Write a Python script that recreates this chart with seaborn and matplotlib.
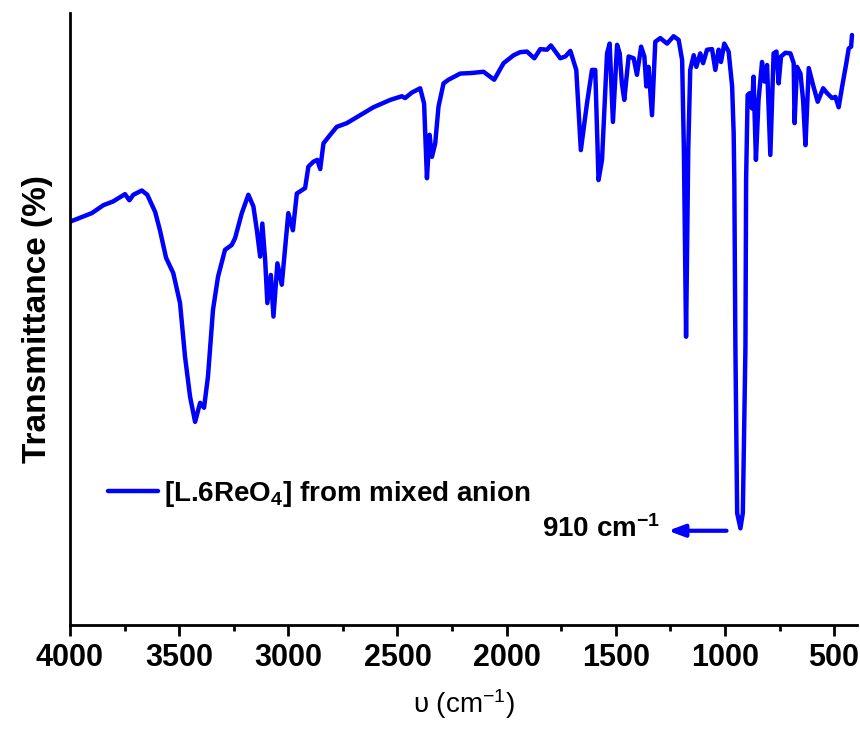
import numpy as np
import pandas as pd
import matplotlib
matplotlib.use("Agg")
import matplotlib.pyplot as plt
import seaborn as sns

# ---- data ----
wavenumber = [4000, 3900, 3847, 3803, 3748, 3728, 3710, 3671, 3646, 3610, 3588, 3560,
              3527, 3496, 3473, 3450, 3427, 3404, 3386, 3368, 3345, 3322, 3290, 3259,
              3244, 3213, 3183, 3160, 3144, 3129, 3119, 3106, 3096, 3080, 3068, 3050,
              3030, 3007, 3000, 2979, 2961, 2923, 2908, 2885, 2867, 2854, 2839, 2808,
              2778, 2732, 2671, 2610, 2533, 2480, 2465, 2434, 2396, 2378, 2365, 2353,
              2342, 2327, 2312, 2289, 2266, 2213, 2159, 2106, 2057, 2014, 1968, 1938,
              1907, 1873, 1846, 1815, 1797, 1754, 1731, 1708, 1681, 1660, 1632, 1609,
              1594, 1579, 1563, 1556, 1540, 1528, 1513, 1494, 1482, 1472, 1461, 1441,
              1418, 1403, 1384, 1369, 1360, 1350, 1334, 1319, 1296, 1265, 1235, 1212,
              1196, 1188, 1178, 1168, 1159, 1143, 1131, 1113, 1100, 1082, 1059, 1044,
              1029, 1018, 1003, 983, 967, 960, 957, 952, 944, 929, 918, 906, 903, 896,
              887, 876, 869, 858, 846, 830, 819, 807, 792, 777, 764, 754, 743, 723,
              700, 685, 681, 670, 654, 642, 631, 616, 596, 575, 550, 532, 509, 494,
              479, 463, 444, 433, 422, 418]
transmittance = [65.9, 67.3, 68.6, 69.2, 70.4, 69.4, 70.3, 71.0, 70.3, 67.5, 64.5, 60.0,
                 57.5, 52.6, 43.8, 37.3, 33.2, 36.3, 35.5, 40.6, 51.5, 56.9, 61.3, 62.1,
                 63.2, 67.3, 70.3, 68.4, 64.5, 60.2, 65.6, 59.6, 52.6, 57.2, 50.4, 59.1,
                 55.6, 64.5, 67.3, 64.5, 70.5, 71.4, 74.9, 75.7, 76.0, 74.5, 78.7, 80.1,
                 81.4, 82.0, 83.3, 84.6, 85.8, 86.4, 86.1, 87.0, 87.7, 85.2, 73.0, 80.1,
                 76.5, 78.7, 84.7, 88.5, 89.1, 90.1, 90.2, 90.4, 89.1, 91.8, 93.1, 93.6,
                 93.7, 92.6, 94.1, 94.0, 94.7, 92.6, 92.9, 93.8, 90.7, 77.6, 85.2, 90.7,
                 90.7, 72.7, 76.0, 81.4, 93.4, 95.0, 82.2, 94.8, 93.4, 88.5, 85.8, 92.9,
                 92.6, 89.9, 94.5, 92.9, 88.0, 91.2, 83.3, 95.3, 95.9, 95.0, 96.2, 95.6,
                 92.3, 77.6, 47.1, 77.6, 90.7, 93.1, 91.2, 93.4, 91.8, 94.0, 94.1, 90.7,
                 94.0, 92.0, 95.0, 93.7, 88.0, 80.4, 72.7, 45.4, 18.3, 15.8, 18.3, 45.4, 72.7, 86.6,
                 86.9, 84.4, 89.6, 76.0, 85.8, 92.0, 88.8, 91.5, 76.8, 93.4, 93.7, 88.5, 92.9, 93.5,
                 93.4, 91.8, 82.0, 91.2, 90.1, 85.8, 78.4, 91.0, 88.2, 85.5, 87.7, 86.9, 86.1, 86.3,
                 84.6, 88.0, 91.8, 94.2, 94.5, 96.4]
x_ticks = [4000, 3500, 3000, 2500, 2000, 1500, 1000, 500]
x_tick_labels = ["4000", "3500", "3000", "2500", "2000", "1500", "1000", "500"]
series_label = "[L.6ReO$_4$] from mixed anion"
peak_label = "910 cm$^{-1}$"

# two points that bound the hand-drawn arrow (tail near peak, head to the left)
arrow_tail = (980, 15.4)
arrow_head = (1273, 15.4)

df = pd.DataFrame({"wn": wavenumber, "T": transmittance})

sns.set_theme(style="ticks")
plt.rcParams["font.family"] = ["Liberation Sans", "DejaVu Sans"]
plt.rcParams["mathtext.default"] = "regular"
plt.rcParams["text.color"] = "black"
plt.rcParams["axes.labelcolor"] = "black"
plt.rcParams["xtick.color"] = "black"
plt.rcParams["ytick.color"] = "black"

fig = plt.figure(figsize=(8.6, 7.37), dpi=100)
ax = fig.add_axes([70 / 860, 1 - 625 / 737, (857 - 70) / 860, (625 - 13) / 737])

sns.lineplot(data=df, x="wn", y="T", ax=ax, color="#0000ff", linewidth=3.2,
             sort=False, estimator=None, label=series_label)

ax.set_xlim(4000, 395)
ax.set_ylim(0, 100)
ax.set_xticks(x_ticks)
ax.set_xticklabels(x_tick_labels)
ax.set_xticks(np.arange(3750, 395, -500), minor=True)
ax.set_yticks([])

for side in ["top", "right"]:
    ax.spines[side].set_visible(False)
for side in ["left", "bottom"]:
    ax.spines[side].set_linewidth(2.0)
    ax.spines[side].set_color("black")

ax.tick_params(axis="x", which="major", direction="out", length=8, width=2.0,
               labelsize=22, pad=5, colors="black")
ax.tick_params(axis="x", which="minor", direction="out", length=4.5, width=2.0,
               colors="black")
for lab in ax.get_xticklabels():
    lab.set_fontweight("bold")
    lab.set_color("black")

ax.set_xlabel("υ (cm$^{-1}$)", fontsize=20, labelpad=10, color="black")
ax.set_ylabel("Transmittance (%)", fontsize=24, fontweight="bold", labelpad=12,
              color="black")

leg = ax.legend(loc="center left", bbox_to_anchor=(108 / 860, 1 - 494 / 737),
                bbox_transform=fig.transFigure, frameon=False, borderpad=0,
                borderaxespad=0, handlelength=1.8, handletextpad=0.2,
                prop={"weight": "bold", "size": 20})
for t in leg.get_texts():
    t.set_color("black")

ax.text(1296, 15.6, peak_label, ha="right", va="center", fontsize=20,
        fontweight="bold", color="black")
ax.annotate("", xy=arrow_head, xytext=arrow_tail,
            arrowprops=dict(arrowstyle="-|>,head_length=0.8,head_width=0.3",
                            color="#0000ff", lw=3))

fig.savefig("out.png", dpi=100)
